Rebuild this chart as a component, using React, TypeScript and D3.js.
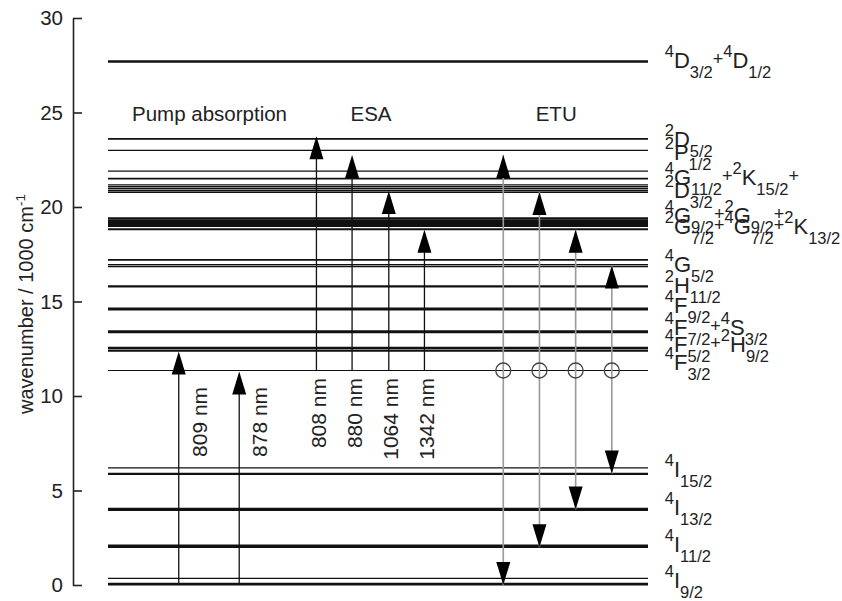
import React, { useEffect, useRef } from "react";
import * as d3 from "d3";

const yTicks = [0, 5, 10, 15, 20, 25, 30];

// Nd levels (1000 cm^-1) and the line weight of each sublevel
const levelEnergy = [
  27.7, 23.6, 23.0, 21.9, 21.5, 21.17, 21.07, 20.97, 20.87, 20.78, 19.4, 19.3,
  19.2, 19.1, 19.0, 18.82, 17.2, 16.95, 16.85, 15.8, 14.6, 13.4, 12.55, 12.4,
  11.35, 6.2, 5.88, 4.0, 2.05, 0.35, 0.05,
];
const levelWeight = [
  2.4, 1.8, 1.2, 1.2, 1.8, 1.4, 1.4, 1.4, 1.4, 1.4, 2, 2, 2, 2, 2, 2, 1.8, 1.4,
  1.4, 2.2, 2.9, 2.9, 2.3, 2.3, 1.2, 1.2, 2.4, 3.4, 3.4, 1.2, 2.8,
];

const metastable = 11.35;

const pumpX = [13.1, 24.3];
const pumpTop = [12.35, 11.3];
const pumpLabels = ["809 nm", "878 nm"];

const esaX = [38.6, 45.2, 52.0, 58.6];
const esaTop = [23.75, 22.75, 20.85, 18.8];
const esaLabels = ["808 nm", "880 nm", "1064 nm", "1342 nm"];

const etuX = [73.2, 79.9, 86.6, 93.3];
const etuTop = [22.75, 20.8, 18.8, 16.9];
const etuBottom = [0.0, 2.0, 4.0, 5.9];

const groupTitles = ["Pump absorption", "ESA", "ETU"];
const groupX = [18.8, 48.7, 83.0];
const groupY = 24.55;

// term symbols: ^ = superscript, _ = subscript
const termX = 103.1;
const termRows: [number, string][] = [
  [27.35, "^4 D _3/2 + ^4 D _1/2"],
  [23.17, "^2 D _5/2"],
  [22.49, "^2 P _1/2"],
  [21.16, "^4 G _11/2 + ^2 K _15/2 +"],
  [20.48, "^2 D _3/2"],
  [19.15, "^4 G _9/2 + ^2 G _9/2 +"],
  [18.57, "^2 G _7/2 + ^4 G _7/2 + ^2 K _13/2"],
  [16.56, "^4 G _5/2"],
  [15.45, "^2 H _11/2"],
  [14.39, "^4 F _9/2"],
  [13.23, "^4 F _7/2 + ^4 S _3/2"],
  [12.33, "^4 F _5/2 + ^2 H _9/2"],
  [11.38, "^4 F _3/2"],
  [5.71, "^4 I _15/2"],
  [3.7, "^4 I _13/2"],
  [1.75, "^4 I _11/2"],
  [-0.16, "^4 I _9/2"],
];

const FONT = "'Liberation Sans', Arial, Helvetica, sans-serif";
const INK = "#222";

const App: React.FC = () => {
  const svgRef = useRef<SVGSVGElement | null>(null);

  useEffect(() => {
    if (!svgRef.current) return;
    const svg = d3.select(svgRef.current);
    svg.selectAll("*").remove();

    const width = 842;
    const height = 601;
    svg.attr("width", width).attr("height", height);

    const y = d3.scaleLinear().domain([0, 30]).range([585, 18]);
    const x = d3.scaleLinear().domain([0, 100]).range([108, 648]);

    // axis, ticks pointing inward
    const yAxis = d3
      .axisLeft(y)
      .tickValues(yTicks)
      .tickSizeInner(-9)
      .tickSizeOuter(0)
      .tickPadding(10);
    const ax = svg.append("g").attr("transform", "translate(73,0)").call(yAxis);
    ax.select(".domain").attr("stroke", INK).attr("stroke-width", 1.6);
    ax.selectAll(".tick line").attr("stroke", INK).attr("stroke-width", 1.6);
    ax.selectAll(".tick text")
      .attr("font-family", FONT)
      .attr("font-size", 20.5)
      .attr("fill", INK);

    const yl = svg
      .append("text")
      .attr("transform", "translate(33,304) rotate(-90)")
      .attr("text-anchor", "middle")
      .attr("font-family", FONT)
      .attr("font-size", 20)
      .attr("fill", INK);
    yl.append("tspan").text("wavenumber / 1000 cm");
    yl.append("tspan").attr("dy", -8).attr("font-size", 13.5).text("-1");

    // levels
    svg
      .append("g")
      .selectAll("line")
      .data(levelEnergy)
      .enter()
      .append("line")
      .attr("x1", x(0))
      .attr("x2", x(100))
      .attr("y1", (d) => y(d))
      .attr("y2", (d) => y(d))
      .attr("stroke", "#111")
      .attr("stroke-width", (_, i) => levelWeight[i]);

    const headW = 7;
    const headH = 23;
    const head = (cx: number, tip: number, up: boolean) => {
      const b = up ? tip + headH : tip - headH;
      return `M${cx},${tip}L${cx - headW},${b}L${cx + headW},${b}Z`;
    };

    const arrows = svg.append("g");

    // ETU (grey lines)
    etuX.forEach((px, i) => {
      arrows
        .append("line")
        .attr("x1", x(px))
        .attr("x2", x(px))
        .attr("y1", y(etuTop[i]))
        .attr("y2", y(etuBottom[i]))
        .attr("stroke", "#9a9a9a")
        .attr("stroke-width", 1.6);
      arrows.append("path").attr("d", head(x(px), y(etuTop[i]), true)).attr("fill", "#000");
      arrows.append("path").attr("d", head(x(px), y(etuBottom[i]), false)).attr("fill", "#000");
      arrows
        .append("circle")
        .attr("cx", x(px))
        .attr("cy", y(metastable))
        .attr("r", 7.5)
        .attr("fill", "none")
        .attr("stroke", "#444")
        .attr("stroke-width", 1.3);
    });

    // pump absorption
    pumpX.forEach((px, i) => {
      arrows
        .append("line")
        .attr("x1", x(px))
        .attr("x2", x(px))
        .attr("y1", y(0))
        .attr("y2", y(pumpTop[i]) + 5)
        .attr("stroke", "#111")
        .attr("stroke-width", 1.3);
      arrows.append("path").attr("d", head(x(px), y(pumpTop[i]), true)).attr("fill", "#000");
      arrows
        .append("text")
        .attr("transform", `translate(${x(px) + 28},${y(10.48)}) rotate(-90)`)
        .attr("text-anchor", "end")
        .attr("font-family", FONT)
        .attr("font-size", 21)
        .attr("fill", INK)
        .text(pumpLabels[i]);
    });

    // ESA
    esaX.forEach((px, i) => {
      arrows
        .append("line")
        .attr("x1", x(px))
        .attr("x2", x(px))
        .attr("y1", y(metastable))
        .attr("y2", y(esaTop[i]) + 5)
        .attr("stroke", "#111")
        .attr("stroke-width", 1.3);
      arrows.append("path").attr("d", head(x(px), y(esaTop[i]), true)).attr("fill", "#000");
      arrows
        .append("text")
        .attr("transform", `translate(${x(px) + 9.5},${y(10.95)}) rotate(-90)`)
        .attr("text-anchor", "end")
        .attr("font-family", FONT)
        .attr("font-size", 21)
        .attr("fill", INK)
        .text(esaLabels[i]);
    });

    // group titles
    svg
      .append("g")
      .selectAll("text")
      .data(groupTitles)
      .enter()
      .append("text")
      .attr("x", (_, i) => x(groupX[i]))
      .attr("y", y(groupY))
      .attr("text-anchor", "middle")
      .attr("font-family", FONT)
      .attr("font-size", 20.5)
      .attr("fill", INK)
      .text((d) => d);

    // term symbols (stacked rows overlap, as in the original figure)
    const sizes: Record<string, number> = { sup: 16.5, sub: 16.5, main: 22, plus: 18 };
    const shifts: Record<string, number> = { sup: -11, sub: 10, main: 0, plus: -3 };
    termRows.forEach(([e, spec]) => {
      const t = svg
        .append("text")
        .attr("x", x(termX))
        .attr("y", y(e))
        .attr("font-family", FONT)
        .attr("fill", INK);
      let cur = 0;
      spec.split(" ").forEach((tok) => {
        let kind = "main";
        let txt = tok;
        if (tok.startsWith("^")) {
          kind = "sup";
          txt = tok.slice(1);
        } else if (tok.startsWith("_")) {
          kind = "sub";
          txt = tok.slice(1);
        } else if (tok === "+") {
          kind = "plus";
        }
        t.append("tspan")
          .attr("dy", shifts[kind] - cur)
          .attr("font-size", sizes[kind])
          .text(txt);
        cur = shifts[kind];
      });
    });
  }, []);

  return (
    <svg
      ref={svgRef}
      style={{ position: "absolute", left: 0, top: 0, background: "#fff" }}
    ></svg>
  );
};

export default App;
